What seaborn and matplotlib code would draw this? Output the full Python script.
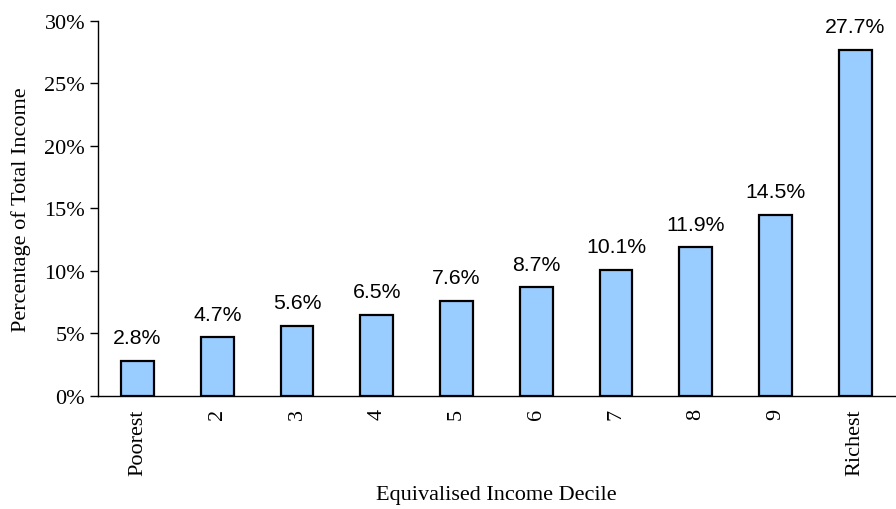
import numpy as np
import pandas as pd
import matplotlib
matplotlib.use("Agg")
import matplotlib.pyplot as plt
import seaborn as sns

deciles = ["Poorest", "2", "3", "4", "5", "6", "7", "8", "9", "Richest"]
shares = [2.8, 4.7, 5.6, 6.5, 7.6, 8.7, 10.1, 11.9, 14.5, 27.7]
y_ticks = [0, 5, 10, 15, 20, 25, 30]

df = pd.DataFrame({"decile": deciles, "share": shares})

sns.set_style("white")
plt.rcParams['font.family'] = ['Liberation Serif', 'DejaVu Serif']
plt.rcParams['text.color'] = 'black'
plt.rcParams['axes.labelcolor'] = 'black'
plt.rcParams['xtick.color'] = 'black'
plt.rcParams['ytick.color'] = 'black'

fig = plt.figure(figsize=(8.96, 5.10), dpi=100)
ax = fig.add_axes([0.109, 0.222, 0.89, 0.735])

sns.barplot(data=df, x="decile", y="share", color="#99CCFF", saturation=1,
            edgecolor="black", linewidth=1.6, width=0.41, ax=ax)

# value labels above bars
for i, v in enumerate(shares):
    ax.annotate(f"{v:.1f}%", (i, v), xytext=(0, 12.5), textcoords="offset points",
                ha="center", va="baseline", fontsize=15.3, family="Liberation Sans",
                color="black")

ax.set_xlim(-0.5, 9.5)
ax.set_ylim(0, 30)
ax.set_yticks(y_ticks)
ax.set_yticklabels([f"{t}%" for t in y_ticks], fontsize=16)
ax.set_xticks(range(len(deciles)))
ax.set_xticklabels(deciles, rotation=90, fontsize=16)
ax.set_xticks(np.arange(0.5, 9.5, 1), minor=True)
ax.tick_params(axis="x", which="major", length=0, pad=9)
ax.tick_params(axis="x", which="minor", length=5, width=1, direction="out", color="black")
ax.tick_params(axis="y", length=6, width=1, direction="out", color="black", left=True, pad=3)

for s in ["top", "right"]:
    ax.spines[s].set_visible(False)
for s in ["left", "bottom"]:
    ax.spines[s].set_color("black")
    ax.spines[s].set_linewidth(1)

ax.set_xlabel("Equivalised Income Decile", fontsize=16, labelpad=7)
ax.set_ylabel("Percentage of Total Income", fontsize=16, labelpad=10)

fig.savefig("out.png", dpi=100)
